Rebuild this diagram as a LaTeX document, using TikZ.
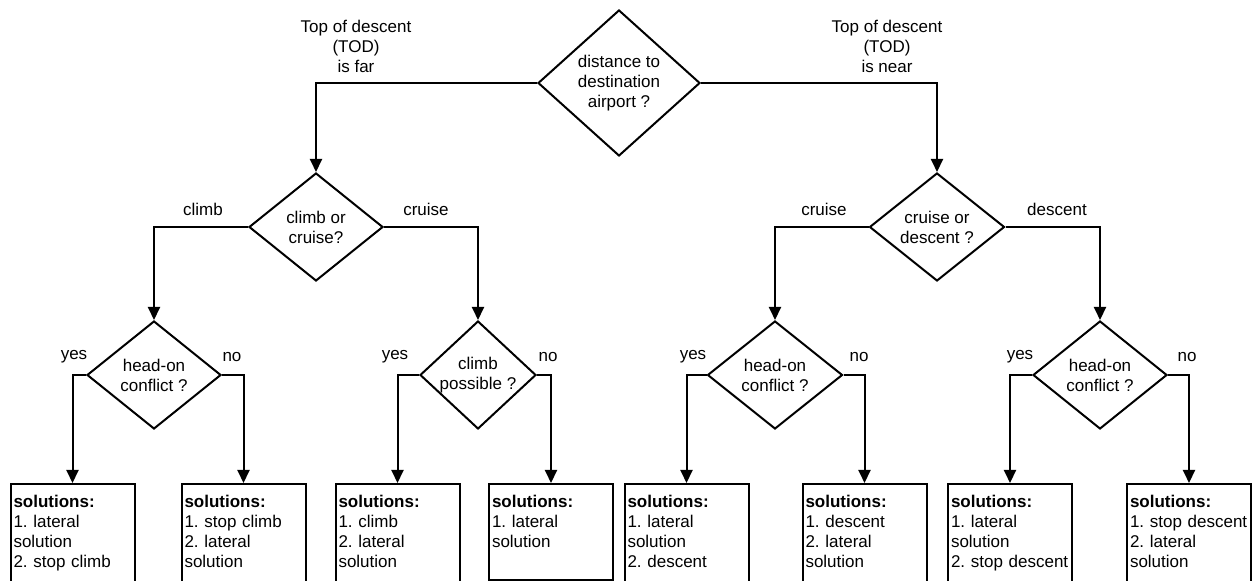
\documentclass[tikz,border=0pt]{standalone}
\usepackage{fontspec}
\setmainfont{Liberation Sans}
\usetikzlibrary{shapes.geometric,arrows.meta}
\frenchspacing
\hyphenpenalty=10000

\tikzset{
  decision/.style={diamond, draw, line width=1pt, inner sep=0pt},
  qtext/.style={align=center, inner sep=0pt},
  branch/.style={align=center, inner sep=0pt},
  solbox/.style={draw, line width=1pt, anchor=north, align=left, text width=59pt,
    inner xsep=1.5pt, inner ysep=0pt, text height=12pt, text depth=41.5pt},
  arr/.style={line width=1pt, -{Triangle[width=6pt,length=6.5pt]}}
}

\begin{document}
\begin{tikzpicture}[x=0.5pt, y=-0.5pt, font=\fontsize{8.5}{10}\selectfont]
    \useasboundingbox (0,0) rectangle (1252,581);
    \clip (0,0) rectangle (1252,581);

    % questions
    \node[decision, minimum width=81pt, minimum height=73pt] (dist) at (619,83) {};
    \node[qtext] (distq) at (dist) {distance to\\destination\\airport ?};
    \node[decision, minimum width=67pt, minimum height=54pt] (d1) at (316,227) {};
    \node[qtext] (d1q) at (d1) {climb or\\cruise?};
    \node[decision, minimum width=67.5pt, minimum height=54pt] (d2) at (937,227) {};
    \node[qtext] (d2q) at (d2) {cruise or\\descent ?};
    \node[decision, minimum width=67pt, minimum height=54pt] (h1) at (154,375) {};
    \node[qtext] (h1q) at (h1) {head-on\\conflict ?};
    \node[decision, minimum width=58pt, minimum height=54pt] (cp) at (478,375) {};
    \node[qtext] (cpq) at (cp) {climb\\possible ?};
    \node[decision, minimum width=67.5pt, minimum height=54pt] (h3) at (775,375) {};
    \node[qtext] (h3q) at (h3) {head-on\\conflict ?};
    \node[decision, minimum width=67pt, minimum height=54pt] (h4) at (1100,375) {};
    \node[qtext] (h4q) at (h4) {head-on\\conflict ?};

    % solutions
    \node[solbox] (s1) at (72.5,483) {\textbf{solutions:}\\1. lateral\\solution\\2. stop climb};
    \node[solbox] (s2) at (243.5,483) {\textbf{solutions:}\\1. stop climb\\2. lateral\\solution};
    \node[solbox] (s3) at (397.5,483) {\textbf{solutions:}\\1. climb\\2. lateral\\solution};
    \node[solbox, text depth=36pt] (s4) at (551,483) {\textbf{solutions:}\\1. lateral\\solution};
    \node[solbox] (s5) at (686.5,483) {\textbf{solutions:}\\1. lateral\\solution\\2. descent};
    \node[solbox] (s6) at (864.5,483) {\textbf{solutions:}\\1. descent\\2. lateral\\solution};
    \node[solbox] (s7) at (1010,483) {\textbf{solutions:}\\1. lateral\\solution\\2. stop descent};
    \node[solbox] (s8) at (1189,483) {\textbf{solutions:}\\1. stop descent\\2. lateral\\solution};

    % connectors
    \draw[arr] (dist.west) -| (d1.north);
    \draw[arr] (dist.east) -| (d2.north);
    \draw[arr] (d1.west) -| (h1.north);
    \draw[arr] (d1.east) -| (cp.north);
    \draw[arr] (d2.west) -| (h3.north);
    \draw[arr] (d2.east) -| (h4.north);
    \draw[arr] (h1.west) -| (s1.north);
    \draw[arr] (h1.east) -| (s2.north);
    \draw[arr] (cp.west) -| (s3.north);
    \draw[arr] (cp.east) -| (s4.north);
    \draw[arr] (h3.west) -| (s5.north);
    \draw[arr] (h3.east) -| (s6.north);
    \draw[arr] (h4.west) -| (s7.north);
    \draw[arr] (h4.east) -| (s8.north);

    % branch labels
    \node[branch] (far) at (356,46) {Top of descent\\(TOD)\\is far};
    \node[branch] (near) at (887,46) {Top of descent\\(TOD)\\is near};
    \node[branch] (climb) at (203,209) {climb};
    \node[branch] (cruise1) at (426,209) {cruise};
    \node[branch] (cruise2) at (824,209) {cruise};
    \node[branch] (desc) at (1057,209) {descent};
    \node[branch] (yes1) at (74,357) {yes};
    \node[branch] (no1) at (232,357) {no};
    \node[branch] (yes2) at (395,357) {yes};
    \node[branch] (no2) at (548,357) {no};
    \node[branch] (yes3) at (693,357) {yes};
    \node[branch] (no3) at (859,357) {no};
    \node[branch] (yes4) at (1020,357) {yes};
    \node[branch] (no4) at (1187,357) {no};
\end{tikzpicture}
\end{document}
